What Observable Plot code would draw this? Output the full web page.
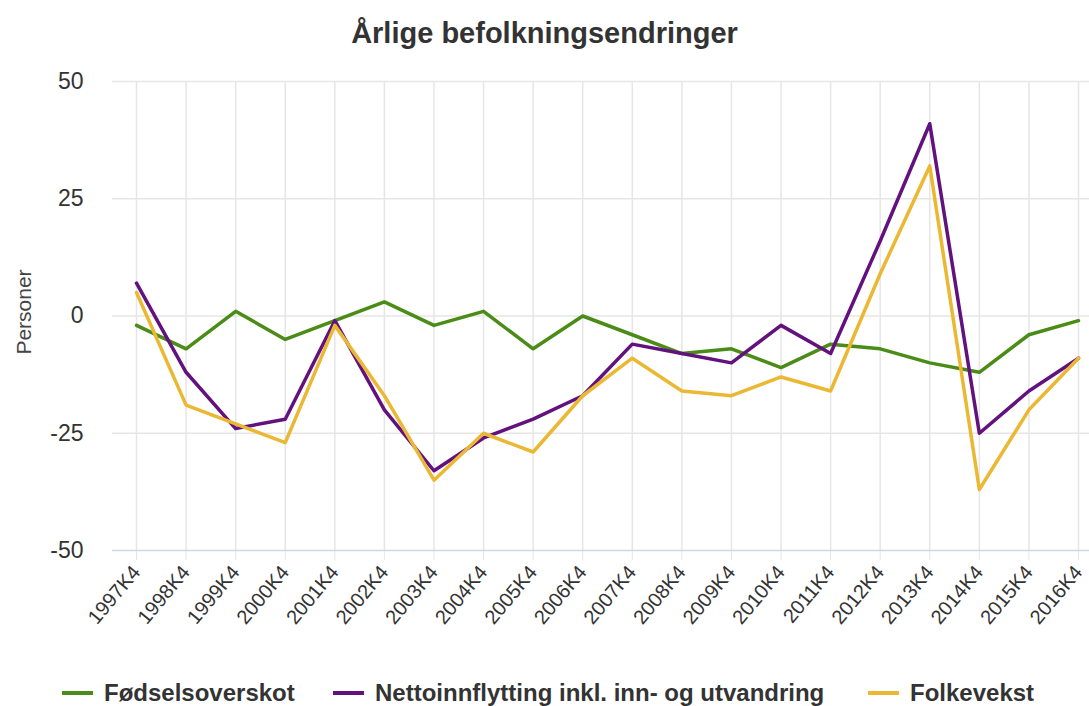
<!DOCTYPE html>
<html>
<head>
<meta charset="utf-8">
<script src="https://cdn.jsdelivr.net/npm/d3@7"></script>
<script src="https://cdn.jsdelivr.net/npm/@observablehq/plot@0.6"></script>
<style>
  body { margin: 0; background: #fff; font-family: "Liberation Sans", Arial, sans-serif; width: 1089px; height: 706px; overflow: hidden; }
  #title { height: 60px; line-height: 66px; text-align: center; font-weight: bold; font-size: 29px; color: #333; }
  #legend { position: absolute; top: 679px; left: 0; width: 1089px; height: 34px; }
  .item { position: absolute; top: 0; display: flex; align-items: center; font-weight: bold; font-size: 24px; color: #333; white-space: nowrap; }
  .sw { width: 31px; height: 4px; margin-right: 11px; }
</style>
</head>
<body>
<div id="title">Årlige befolkningsendringer</div>
<div id="chart"></div>
<div id="legend"></div>
<script>
const quarters = ["1997K4","1998K4","1999K4","2000K4","2001K4","2002K4","2003K4","2004K4","2005K4","2006K4","2007K4","2008K4","2009K4","2010K4","2011K4","2012K4","2013K4","2014K4","2015K4","2016K4"];
const seriesNames = ["Fødselsoverskot", "Nettoinnflytting inkl. inn- og utvandring", "Folkevekst"];
const fodselsoverskot = [-2, -7, 1, -5, -1, 3, -2, 1, -7, 0, -4, -8, -7, -11, -6, -7, -10, -12, -4, -1];
const nettoinnflytting = [7, -12, -24, -22, -1, -20, -33, -26, -22, -17, -6, -8, -10, -2, -8, 16, 41, -25, -16, -9];
const folkevekst = [5, -19, -23, -27, -2, -17, -35, -25, -29, -17, -9, -16, -17, -13, -16, 9, 32, -37, -20, -9];
const yTicks = [-50, -25, 0, 25, 50];
const colors = ["#4a8c17", "#62117f", "#ebb833"];

const valuesBySeries = [fodselsoverskot, nettoinnflytting, folkevekst];
const data = [];
valuesBySeries.forEach((vals, s) => vals.forEach((v, i) => data.push({series: seriesNames[s], q: quarters[i], v})));

const chart = Plot.plot({
  width: 1089,
  height: 610,
  marginLeft: 112,
  marginRight: 0,
  marginTop: 21,
  marginBottom: 120,
  style: { fontFamily: "'Liberation Sans', Arial, sans-serif", fontSize: "20px", color: "#333", background: "#fff" },
  x: { type: "point", domain: quarters, range: [136, 1078], padding: 0, round: false },
  y: { domain: [-50, 50] },
  color: { domain: seriesNames, range: colors },
  marks: [
    Plot.gridX(quarters, { stroke: "#e6e6e6", strokeOpacity: 1, strokeWidth: 1.5 }),
    Plot.gridY(yTicks.filter(d => d !== -50), { stroke: "#e6e6e6", strokeOpacity: 1, strokeWidth: 1.5 }),
    Plot.axisX(quarters, { tickSize: 10, stroke: "#e6e6e6", tickPadding: 8, tickRotate: -50, fontSize: 20, fill: "#333", label: null }),
    Plot.axisY(yTicks, { tickSize: 0, tickPadding: 29, fontSize: 23, fill: "#333", label: null, tickFormat: d => String(d) }),
    Plot.ruleY([-50], { stroke: "#ccd6eb", strokeWidth: 1.5 }),
    Plot.text(["Personer"], { frameAnchor: "left", dx: -88, dy: -4, rotate: -90, textAnchor: "middle", fontSize: 21, fill: "#444" }),
    Plot.line(data, { x: "q", y: "v", z: "series", stroke: "series", strokeWidth: 3.5, strokeLinejoin: "round" })
  ]
});
document.getElementById("chart").appendChild(chart);

const legend = document.getElementById("legend");
const lefts = [62, 333, 868];
seriesNames.forEach((name, i) => {
  const item = document.createElement("div");
  item.className = "item";
  item.style.left = lefts[i] + "px";
  const sw = document.createElement("div");
  sw.className = "sw";
  sw.style.background = colors[i];
  const t = document.createElement("span");
  t.textContent = name;
  item.appendChild(sw);
  item.appendChild(t);
  legend.appendChild(item);
});
</script>
</body>
</html>
